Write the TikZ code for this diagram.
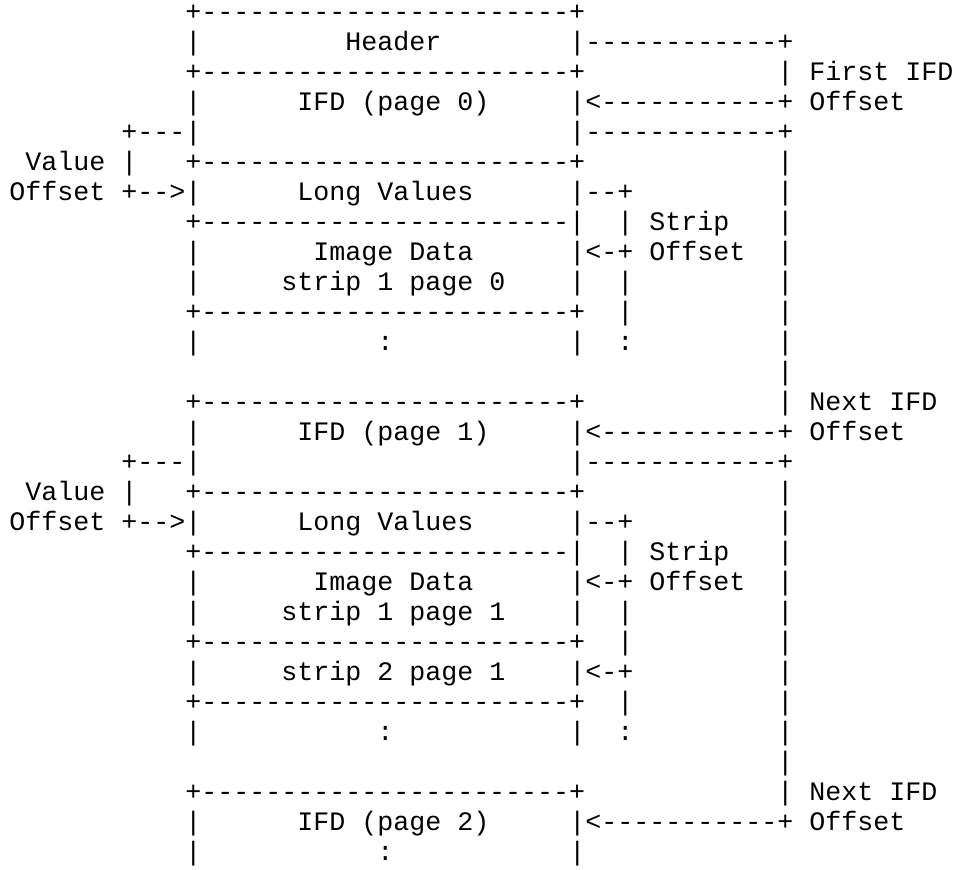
\documentclass[tikz,border=0pt]{standalone}
\usepackage{fontspec}
\setmonofont{Liberation Mono}
\frenchspacing
\newcommand{\boxedge}{-----------------------}
\newcommand{\longlink}{------------}
\tikzset{ascii/.style={font=\ttfamily\fontsize{13.33pt}{15pt}\selectfont,
  anchor=base west, inner sep=0pt, outer sep=0pt}}

\begin{document}
\begin{tikzpicture}[x=8pt, y=-15pt, every node/.style={ascii}]
\useasboundingbox (-0.58,-0.667) rectangle (59.29,28.3);
% header and first IFD
\node (hdrtop) at (11,0) {+\boxedge+};
\node (hdrl) at (11,1) {|};
\node (hdr) at (21,1) {Header};
\node (hdrout) at (35,1) {|\longlink+};
\node (hdrbot) at (11,2) {+\boxedge+};
\node (firstlbl) at (48,2) {| First IFD};
\node (ifdl0) at (11,3) {|};
\node (ifd0) at (18,3) {IFD (page 0)};
\node (ifdin0) at (35,3) {|<-----------+ Offset};
\node (valout0) at (7,4) {+---|};
\node (ifdout0) at (35,4) {|\longlink+};
\node (vallbl0) at (1,5) {Value |};
\node (longtop0) at (11,5) {+\boxedge+};
\node (valin0) at (0,6) {Offset +-->|};
\node (long0) at (18,6) {Long Values};
\node (stripout0) at (35,6) {|--+};
\node (longbot0) at (11,7) {+\boxedge|};
\node (striplbl0) at (38,7) {| Strip};
\node (imgl0) at (11,8) {|};
\node (img0) at (19,8) {Image Data};
\node (stripin0) at (35,8) {|<-+ Offset};
\node (imgl0b) at (11,9) {|};
\node (strip10) at (17,9) {strip 1 page 0};
\node (imgr0) at (35,9) {|};
\node (sv0a) at (38,9) {|};
\node (imgbot0) at (11,10) {+\boxedge+};
\node (sv0b) at (38,10) {|};
\node (dotl0) at (11,11) {|};
\node (dots0) at (23,11) {:};
\node (dotr0) at (35,11) {|};
\node (sdots0) at (38,11) {:};
\node (ifdtop1) at (11,13) {+\boxedge+};
\node (nextlbl1) at (48,13) {| Next IFD};
% second IFD
\node (ifdl1) at (11,14) {|};
\node (ifd1) at (18,14) {IFD (page 1)};
\node (ifdin1) at (35,14) {|<-----------+ Offset};
\node (valout1) at (7,15) {+---|};
\node (ifdout1) at (35,15) {|\longlink+};
\node (vallbl1) at (1,16) {Value |};
\node (longtop1) at (11,16) {+\boxedge+};
\node (valin1) at (0,17) {Offset +-->|};
\node (long1) at (18,17) {Long Values};
\node (stripout1) at (35,17) {|--+};
\node (longbot1) at (11,18) {+\boxedge|};
\node (striplbl1) at (38,18) {| Strip};
\node (imgl1) at (11,19) {|};
\node (img1) at (19,19) {Image Data};
\node (stripin1) at (35,19) {|<-+ Offset};
\node (imgl1b) at (11,20) {|};
\node (strip11) at (17,20) {strip 1 page 1};
\node (imgr1) at (35,20) {|};
\node (sv1a) at (38,20) {|};
\node (imgbot1) at (11,21) {+\boxedge+};
\node (sv1b) at (38,21) {|};
\node (s2l1) at (11,22) {|};
\node (strip21) at (17,22) {strip 2 page 1};
\node (stripin2) at (35,22) {|<-+};
\node (s2bot1) at (11,23) {+\boxedge+};
\node (sv1c) at (38,23) {|};
\node (dotl1) at (11,24) {|};
\node (dots1) at (23,24) {:};
\node (dotr1) at (35,24) {|};
\node (sdots1) at (38,24) {:};
\node (ifdtop2) at (11,26) {+\boxedge+};
\node (nextlbl2) at (48,26) {| Next IFD};
% third IFD
\node (ifdl2) at (11,27) {|};
\node (ifd2) at (18,27) {IFD (page 2)};
\node (ifdin2) at (35,27) {|<-----------+ Offset};
\node (dotl2) at (11,28) {|};
\node (dots2) at (23,28) {:};
\node (dotr2) at (35,28) {|};
% next IFD offset line
\foreach \r in {5,...,12,16,17,...,25}
  \node (link\r) at (48,\r) {|};
\end{tikzpicture}
\end{document}
